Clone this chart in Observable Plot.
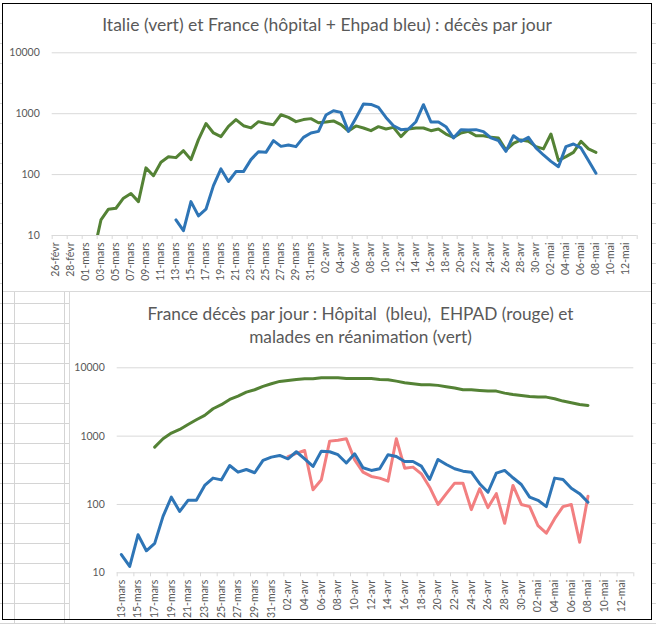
<!DOCTYPE html>
<html><head><meta charset="utf-8">
<script src="https://cdn.jsdelivr.net/npm/d3@7"></script>
<script src="https://cdn.jsdelivr.net/npm/@observablehq/plot@0.6"></script>
<style>
html,body{margin:0;padding:0;background:#fff;}
body{width:656px;height:624px;position:relative;overflow:hidden;font-family:Lato,"Liberation Sans",sans-serif;}
.abs{position:absolute;}
#sheet{left:0;top:0;width:656px;height:624px;background-image:repeating-linear-gradient(to bottom,transparent 0,transparent 19px,#d4d4d4 19px,#d4d4d4 20px);background-position:0 4px;}
.vl{position:absolute;width:1px;background:#d4d4d4;}
#topbox{left:2px;top:3px;width:650px;height:289px;background:#fff;border-bottom:1px solid #d9d9d9;box-sizing:border-box;}
#botbox{left:69px;top:292px;width:583px;height:328px;background:#fff;border-left:1px solid #d9d9d9;box-sizing:border-box;}
#frame{left:1.5px;top:2.5px;width:650.5px;height:617.6px;border:1.6px solid #000;box-sizing:border-box;pointer-events:none;}
.title{color:#595959;text-align:center;white-space:pre;font-family:Lato,"Liberation Sans",sans-serif;}
.title span{display:inline-block;}
svg{position:absolute;}
</style></head>
<body>
<div id="sheet" class="abs"></div>
<div class="vl" style="left:14px;top:292px;height:332px"></div>
<div class="vl" style="left:64px;top:292px;height:332px"></div>
<div id="topbox" class="abs"></div>
<div id="botbox" class="abs"></div>
<div id="t1" class="abs title" style="left:2px;width:650px;top:14px;line-height:22px"><span>Italie (vert) et France (hôpital + Ehpad bleu) : décès par jour</span></div>
<div id="t2" class="abs title" style="left:69px;width:583px;top:301.5px;line-height:23.5px"><span>France décès par jour : Hôpital  (bleu),  EHPAD (rouge) et</span><br><span>malades en réanimation (vert)</span></div>
<div id="charts"></div>
<div id="frame" class="abs"></div>
<script>
// ---------- data ----------
const yTicks = [10, 100, 1000, 10000];

// Top chart: categories 26-févr .. 13-mai
const topFirstDay = "2020-02-26";
const topLastDay = "2020-05-13";
const topTickLabels = ["26-févr","28-févr","01-mars","03-mars","05-mars","07-mars","09-mars","11-mars","13-mars","15-mars","17-mars","19-mars","21-mars","23-mars","25-mars","27-mars","29-mars","31-mars","02-avr","04-avr","06-avr","08-avr","10-avr","12-avr","14-avr","16-avr","18-avr","20-avr","22-avr","24-avr","26-avr","28-avr","30-avr","02-mai","04-mai","06-mai","08-mai","10-mai","12-mai"];

// Italie (vert), from 02-mars to 08-mai
const italieStart = "2020-03-02";
const italie = [5,18,27,28,41,49,36,129,96,160,197,190,247,176,375,690,483,420,620,800,635,585,740,690,660,960,870,740,800,830,711,731,760,661,520,630,583,526,612,561,596,420,561,583,582,526,561,464,409,482,513,435,435,409,400,254,326,371,352,288,264,464,170,197,232,352,264,232];

// France hôpital + Ehpad (bleu), from 13-mars to 08-mai
const franceTotalStart = "2020-03-13";
const franceTotal = [18,12,36,21,27,66,124,77,112,112,176,238,232,361,291,307,288,409,483,513,952,1120,1050,513,850,1440,1420,1268,869,635,547,560,739,1406,731,731,612,400,547,541,547,507,400,361,241,435,352,409,274,210,165,135,288,318,274,170,105];

// Bottom chart: categories 13-mars .. 13-mai
const botFirstDay = "2020-03-13";
const botLastDay = "2020-05-13";
const botTickLabels = ["13-mars","15-mars","17-mars","19-mars","21-mars","23-mars","25-mars","27-mars","29-mars","31-mars","02-avr","04-avr","06-avr","08-avr","10-avr","12-avr","14-avr","16-avr","18-avr","20-avr","22-avr","24-avr","26-avr","28-avr","30-avr","02-mai","04-mai","06-mai","08-mai","10-mai","12-mai"];

// Hôpital (bleu), from 13-mars to 08-mai
const hopitalStart = "2020-03-13";
const hopital = [18.5,12.4,36,21,27,67,128,79,115,115,190,243,229,372,297,325,291,441,493,522,466,591,466,360,603,591,535,405,552,344,315,333,535,505,426,426,364,232,456,385,333,307,297,201,151,287,315,246,196,128,115,93,243,232,173,144,108];

// EHPAD (rouge), from 02-avr to 08-mai
const ehpadStart = "2020-04-02";
const ehpad = [500,560,617,164,230,845,870,916,450,297,257,243,219,916,340,352,281,179,100,144,205,205,84,170,90,144,53,190,100,93,49,38,62,93,100,28,132];

// Malades en réanimation (vert), from 17-mars to 08-mai
const reaStart = "2020-03-17";
const rea = [690,916,1107,1253,1483,1738,2009,2518,2884,3443,3852,4407,4775,5343,5851,6320,6537,6763,6918,6918,7161,7161,7161,7000,6950,6950,6950,6763,6700,6380,6050,5860,5663,5663,5530,5285,5047,4775,4775,4667,4560,4560,4258,4070,3944,3811,3724,3724,3530,3258,3083,2911,2818];

const GREEN = "#548235", BLUE = "#2e75b6", RED = "#f27f80";

// ---------- helpers ----------
const DAY = 864e5;
const day = s => new Date(s + "T00:00:00Z");
const rows = (start, values) => values.map((v, i) => ({date: new Date(+day(start) + i * DAY), value: v}));

function chart({first, last, labels, series, width, height, ml, mr, mt, mb}) {
  const x0 = new Date(+day(first) - DAY / 2), x1 = new Date(+day(last) + DAY / 2);
  const n = Math.round((x1 - x0) / DAY);
  const bounds = d3.range(0, n + 1, 2).map(k => new Date(+x0 + k * DAY));
  const labelMap = new Map(labels.map((l, i) => [+day(first) + 2 * i * DAY, l]));
  const labelDates = [...labelMap.keys()].map(t => new Date(t));
  return Plot.plot({
    width, height, marginLeft: ml, marginRight: mr, marginTop: mt, marginBottom: mb,
    x: {type: "utc", domain: [x0, x1], axis: null, label: null},
    y: {type: "log", domain: [10, 10000], axis: null, label: null},
    style: {background: "transparent", overflow: "visible", fontFamily: "Lato, 'Liberation Sans', sans-serif", fontSize: "10.5px"},
    marks: [
      Plot.ruleY(yTicks, {stroke: "#d9d9d9", strokeWidth: 1}),
      Plot.axisX({ticks: bounds, tickSize: 4, tickFormat: () => "", color: "#d9d9d9", label: null}),
      Plot.axisX({ticks: labelDates, tickFormat: d => labelMap.get(+d), tickSize: 0, tickPadding: 7, tickRotate: -90, color: "#595959", label: null}),
      Plot.axisY({ticks: yTicks, tickFormat: d => String(d), tickSize: 0, tickPadding: 12.4, color: "#595959", label: null}),
      ...series.map(s => Plot.line(s.data, {x: "date", y: "value", stroke: s.color, strokeWidth: 3, strokeLinejoin: "round", strokeLinecap: "round", clip: true}))
    ]
  });
}

const topChart = chart({
  first: topFirstDay, last: topLastDay, labels: topTickLabels,
  series: [
    {data: rows(italieStart, italie), color: GREEN},
    {data: rows(franceTotalStart, franceTotal), color: BLUE}
  ],
  width: 656, height: 252, ml: 51.7, mr: 19.3, mt: 12.3, mb: 57
});
topChart.style.left = "0px"; topChart.style.top = "40px";

const botChart = chart({
  first: botFirstDay, last: botLastDay, labels: botTickLabels,
  series: [
    {data: rows(reaStart, rea), color: GREEN},
    {data: rows(ehpadStart, ehpad), color: RED},
    {data: rows(hopitalStart, hopital), color: BLUE}
  ],
  width: 587, height: 264, ml: 47.7, mr: 22.7, mt: 12.3, mb: 46.7
});
botChart.style.left = "69px"; botChart.style.top = "355px";

const holder = document.getElementById("charts");
holder.appendChild(topChart);
holder.appendChild(botChart);

// fit titles to the measured widths of the reference
function fit(div, target) {
  const span = div.querySelector("span");
  div.style.fontSize = "16px";
  const w = span.getBoundingClientRect().width;
  div.style.fontSize = (16 * target / w) + "px";
}
fit(document.getElementById("t1"), 450);
fit(document.getElementById("t2"), 426);
</script>
</body></html>
